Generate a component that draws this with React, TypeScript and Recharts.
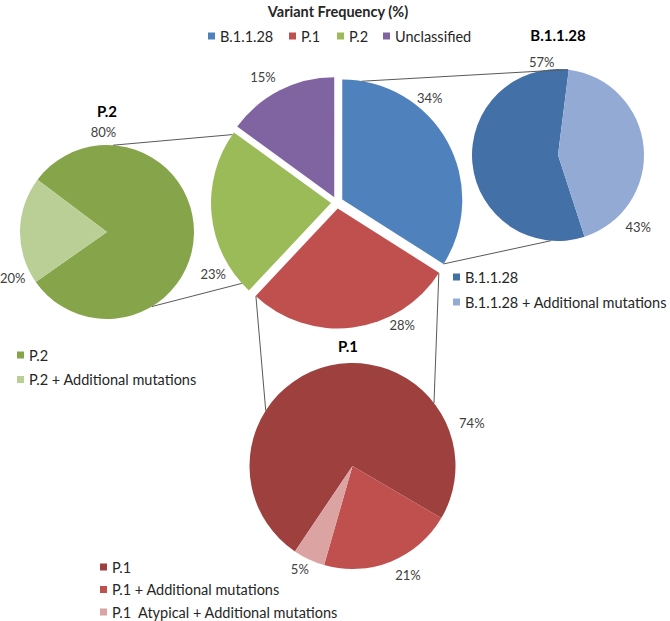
import React from "react";
import { Cell, Pie, PieChart } from "recharts";

// main pie: variant frequency (%)
const MAIN_NAMES = ["B.1.1.28", "P.1", "P.2", "Unclassified"];
const MAIN_VALUES = [34, 28, 23, 15];
const MAIN_COLORS = ["#4F81BD", "#C0504D", "#9BBB59", "#8064A2"];

// breakdown pies
const B_NAMES = ["B.1.1.28", "B.1.1.28 + Additional mutations"];
const B_VALUES = [57, 43];
const B_COLORS = ["#4470A8", "#93ABD4"];

const P2_NAMES = ["P.2", "P.2 + Additional mutations"];
const P2_VALUES = [80, 20];
const P2_COLORS = ["#86A44A", "#B9CF96"];

const P1_NAMES = ["P.1", "P.1 + Additional mutations", "P.1  Atypical + Additional mutations"];
const P1_VALUES = [74, 21, 5];
const P1_COLORS = ["#9D403E", "#C0504D", "#DBA3A2"];

const W = 670;
const H = 621;
const FONT = "Lato, 'Liberation Sans', Arial, sans-serif";

// geometry (centre x, centre y, radius, first-slice angle clockwise from 12 o'clock)
const MAIN = { cx: 337, cy: 202.5, r: 120, start: 0, explode: 6 };
const BPIE = { cx: 558, cy: 155, r: 86, start: 162 };
const P2PIE = { cx: 107, cy: 232, r: 87, start: -53 };
const P1PIE = { cx: 352.5, cy: 466, r: 103, start: 214 };

// label spots: [angle clockwise from top, distance from centre]
const MAIN_LABELS: [number, number][] = [[41.5, 140], [152, 139], [240, 143], [329.5, 146]];
const B_LABELS: [number, number][] = [[350, 94], [132, 108]];
const P2_LABELS: [number, number][] = [[358, 100], [244, 105]];
const P1_LABELS: [number, number][] = [[70, 127], [153, 122], [207, 116]];

const toData = (names: string[], values: number[]) =>
  names.map((name, i) => ({ name, value: values[i] }));

const polar = (cx: number, cy: number, r: number, theta: number) => {
  const rad = (theta * Math.PI) / 180;
  return [cx + r * Math.sin(rad), cy - r * Math.cos(rad)];
};

const total = MAIN_VALUES.reduce((a, b) => a + b, 0);
const mainMid = MAIN_VALUES.map((v, i) => {
  const before = MAIN_VALUES.slice(0, i).reduce((a, b) => a + b, 0);
  return ((before + v / 2) / total) * 360;
});
const mainOffset = mainMid.map((m) => polar(0, 0, MAIN.explode, m));

const makeLabel =
  (cx: number, cy: number, spots: [number, number][], only?: number) =>
  (props: any) => {
    const { index, value } = props;
    if (only !== undefined && index !== only) return null;
    const [x, y] = polar(cx, cy, spots[index][1], spots[index][0]);
    return (
      <text
        key={`lbl-${index}`}
        x={x}
        y={y}
        textAnchor="middle"
        dominantBaseline="central"
        fontSize={13}
        fontFamily={FONT}
        fill="#404040"
      >
        {`${value}%`}
      </text>
    );
  };

// connectors: [slice index of main pie, main angle, sub pie, sub angle]
const CONNECTORS: [number, number, typeof BPIE, number][] = [
  [0, 9.4, BPIE, 6.6],
  [0, 122.4, BPIE, 184.7],
  [2, 304.8, P2PIE, 4],
  [2, 228, P2PIE, 149],
  [1, 223, P1PIE, 302.6],
  [1, 122.6, P1PIE, 52.3],
];

const Legend = ({ x, y, step, names, colors }: { x: number; y: number; step: number; names: string[]; colors: string[] }) => (
  <g>
    {names.map((n, i) => (
      <g key={n}>
        <rect x={x} y={y + i * step - 3.5} width={7} height={7} fill={colors[i]} />
        <text
          x={x + 12}
          y={y + i * step}
          dominantBaseline="central"
          fontSize={14.5}
          fontFamily={FONT}
          fill="#262626"
          style={{ whiteSpace: "pre" }}
        >
          {n}
        </text>
      </g>
    ))}
  </g>
);

const SubPie = ({ geo, names, values, colors, spots }: any) => (
  <Pie
    data={toData(names, values)}
    dataKey="value"
    nameKey="name"
    cx={geo.cx}
    cy={geo.cy}
    outerRadius={geo.r}
    startAngle={90 - geo.start}
    endAngle={90 - geo.start - 360}
    stroke="none"
    isAnimationActive={false}
    labelLine={false}
    label={makeLabel(geo.cx, geo.cy, spots)}
  >
    {names.map((n: string, i: number) => (
      <Cell key={n} fill={colors[i]} />
    ))}
  </Pie>
);

export default function App() {
  const mainData = toData(MAIN_NAMES, MAIN_VALUES);
  const legendX = [208, 289, 337, 383];

  return (
    <div style={{ position: "absolute", left: 0, top: 0, width: W, height: H, background: "#fff" }}>
      <PieChart width={W} height={H} margin={{ top: 0, right: 0, bottom: 0, left: 0 }}>
        {MAIN_NAMES.map((name, k) => (
          <Pie
            key={name}
            data={mainData}
            dataKey="value"
            nameKey="name"
            cx={MAIN.cx + mainOffset[k][0]}
            cy={MAIN.cy + mainOffset[k][1]}
            outerRadius={MAIN.r}
            startAngle={90}
            endAngle={-270}
            stroke="none"
            isAnimationActive={false}
            labelLine={false}
            label={makeLabel(MAIN.cx, MAIN.cy, MAIN_LABELS, k)}
          >
            {MAIN_NAMES.map((n, i) => (
              <Cell key={n} fill={i === k ? MAIN_COLORS[i] : "transparent"} />
            ))}
          </Pie>
        ))}
        {SubPie({ geo: BPIE, names: B_NAMES, values: B_VALUES, colors: B_COLORS, spots: B_LABELS })}
        {SubPie({ geo: P2PIE, names: P2_NAMES, values: P2_VALUES, colors: P2_COLORS, spots: P2_LABELS })}
        {SubPie({ geo: P1PIE, names: P1_NAMES, values: P1_VALUES, colors: P1_COLORS, spots: P1_LABELS })}
      </PieChart>

      <svg width={W} height={H} style={{ position: "absolute", left: 0, top: 0, pointerEvents: "none" }}>
        {CONNECTORS.map(([k, a, sub, b], i) => {
          const [x1, y1] = polar(MAIN.cx + mainOffset[k][0], MAIN.cy + mainOffset[k][1], MAIN.r, a);
          const [x2, y2] = polar(sub.cx, sub.cy, sub.r, b);
          return <line key={i} x1={x1} y1={y1} x2={x2} y2={y2} stroke="#595959" strokeWidth={1} />;
        })}

        <text x={338} y={11} textAnchor="middle" dominantBaseline="central" fontSize={14.5} fontWeight="bold" fontFamily={FONT} fill="#262626">
          Variant Frequency (%)
        </text>
        {MAIN_NAMES.map((n, i) => (
          <g key={n}>
            <rect x={legendX[i]} y={36 - 3.5} width={7} height={7} fill={MAIN_COLORS[i]} />
            <text x={legendX[i] + 12} y={36} dominantBaseline="central" fontSize={14.5} fontFamily={FONT} fill="#262626">
              {n}
            </text>
          </g>
        ))}

        <text x={558} y={35} textAnchor="middle" dominantBaseline="central" fontSize={15} fontWeight="bold" fontFamily={FONT} fill="#000">
          B.1.1.28
        </text>
        <text x={107} y={111} textAnchor="middle" dominantBaseline="central" fontSize={15} fontWeight="bold" fontFamily={FONT} fill="#000">
          P.2
        </text>
        <text x={348} y={346} textAnchor="middle" dominantBaseline="central" fontSize={15} fontWeight="bold" fontFamily={FONT} fill="#000">
          P.1
        </text>

        <Legend x={453} y={277} step={25} names={B_NAMES} colors={B_COLORS} />
        <Legend x={17} y={355} step={24.5} names={P2_NAMES} colors={P2_COLORS} />
        <Legend x={100} y={567} step={22.5} names={P1_NAMES} colors={P1_COLORS} />
      </svg>
    </div>
  );
}
